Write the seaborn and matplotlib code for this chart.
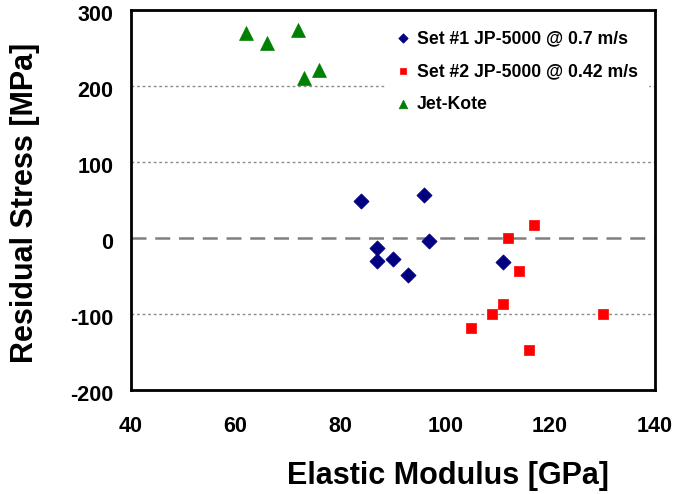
import matplotlib
matplotlib.use("Agg")
import matplotlib.pyplot as plt
import matplotlib.transforms as mtransforms
import seaborn as sns
import pandas as pd

# Elastic modulus [GPa] and residual stress [MPa] per coating set
set1_modulus = [84, 96, 97, 87, 87, 90, 93, 111]
set1_stress = [49, 56, -4, -13, -30, -27, -49, -31]

set2_modulus = [117, 112, 114, 111, 109, 105, 116, 130]
set2_stress = [17, 0, -44, -87, -100, -118, -147, -100]

jetkote_modulus = [62, 66, 72, 73, 76]
jetkote_stress = [270, 257, 274, 211, 221]

series_names = ["Set #1 JP-5000 @ 0.7 m/s", "Set #2 JP-5000 @ 0.42 m/s", "Jet-Kote"]
series_colors = ["#000080", "#FF0000", "#008000"]
series_markers = ["D", "s", "^"]
series_sizes = [60, 62, 100]

x_ticks = [40, 60, 80, 100, 120, 140]
y_ticks = [-200, -100, 0, 100, 200, 300]

rows = []
for name, xs, ys in zip(series_names,
                        [set1_modulus, set2_modulus, jetkote_modulus],
                        [set1_stress, set2_stress, jetkote_stress]):
    for x, y in zip(xs, ys):
        rows.append({"Elastic Modulus [GPa]": x, "Residual Stress [MPa]": y, "Series": name})
df = pd.DataFrame(rows)

sns.set_theme(style="white")
plt.rcParams["font.family"] = ["Liberation Sans", "DejaVu Sans"]
plt.rcParams["font.weight"] = "bold"
plt.rcParams["axes.unicode_minus"] = False
for key in ["text.color", "axes.labelcolor", "xtick.color", "ytick.color"]:
    plt.rcParams[key] = "black"

fig = plt.figure(figsize=(6.8, 4.94), dpi=100)
ax = fig.add_axes([130.5 / 680, 1 - 390 / 494, 524.5 / 680, 380 / 494])

# reference lines
for yv in [100, 200, -100]:
    ax.axhline(yv, color="#8c8c8c", lw=1.0, ls=(0, (2, 2)), zorder=0)
ax.axhline(0, color="#808080", lw=1.8, ls=(0, (6, 3.5)), zorder=0)

for name, color, marker, size in zip(series_names, series_colors, series_markers, series_sizes):
    sub = df[df["Series"] == name]
    sns.scatterplot(data=sub, x="Elastic Modulus [GPa]", y="Residual Stress [MPa]",
                    color=color, marker=marker, s=size, edgecolor=color, linewidth=0.5,
                    label=name, ax=ax, zorder=3)

ax.set_xlim(40, 140)
ax.set_ylim(-200, 300)
ax.set_xticks(x_ticks)
ax.set_yticks(y_ticks)
ax.tick_params(axis="both", direction="in", length=4, width=1.2, colors="black",
               labelsize=15.5)
ax.tick_params(axis="x", pad=19)
ax.tick_params(axis="y", pad=12.5)
shift = mtransforms.ScaledTranslation(0, -3 / 100, fig.dpi_scale_trans)
for lab in ax.get_yticklabels():
    lab.set_transform(lab.get_transform() + shift)
for lab in ax.get_xticklabels() + ax.get_yticklabels():
    lab.set_fontweight("bold")

for sp in ax.spines.values():
    sp.set_color("black")
    sp.set_linewidth(2)

ax.set_xlabel("Elastic Modulus [GPa]", fontsize=22, fontweight="bold", va="center")
ax.set_ylabel("Residual Stress [MPa]", fontsize=22, fontweight="bold", va="center")
ax.xaxis.set_label_coords(0.605, -0.225)
ax.yaxis.set_label_coords(-0.201, 0.493)

leg = ax.legend(loc="upper left", bbox_to_anchor=(0.485, 0.975), frameon=True,
                facecolor="white", edgecolor="white", framealpha=1,
                prop={"weight": "bold", "size": 12.7}, markerscale=0.62,
                handletextpad=0.4, labelspacing=0.9, borderpad=0.6,
                handlelength=0.8, borderaxespad=0)
leg.set_zorder(2)

fig.savefig("out.png", dpi=100)
